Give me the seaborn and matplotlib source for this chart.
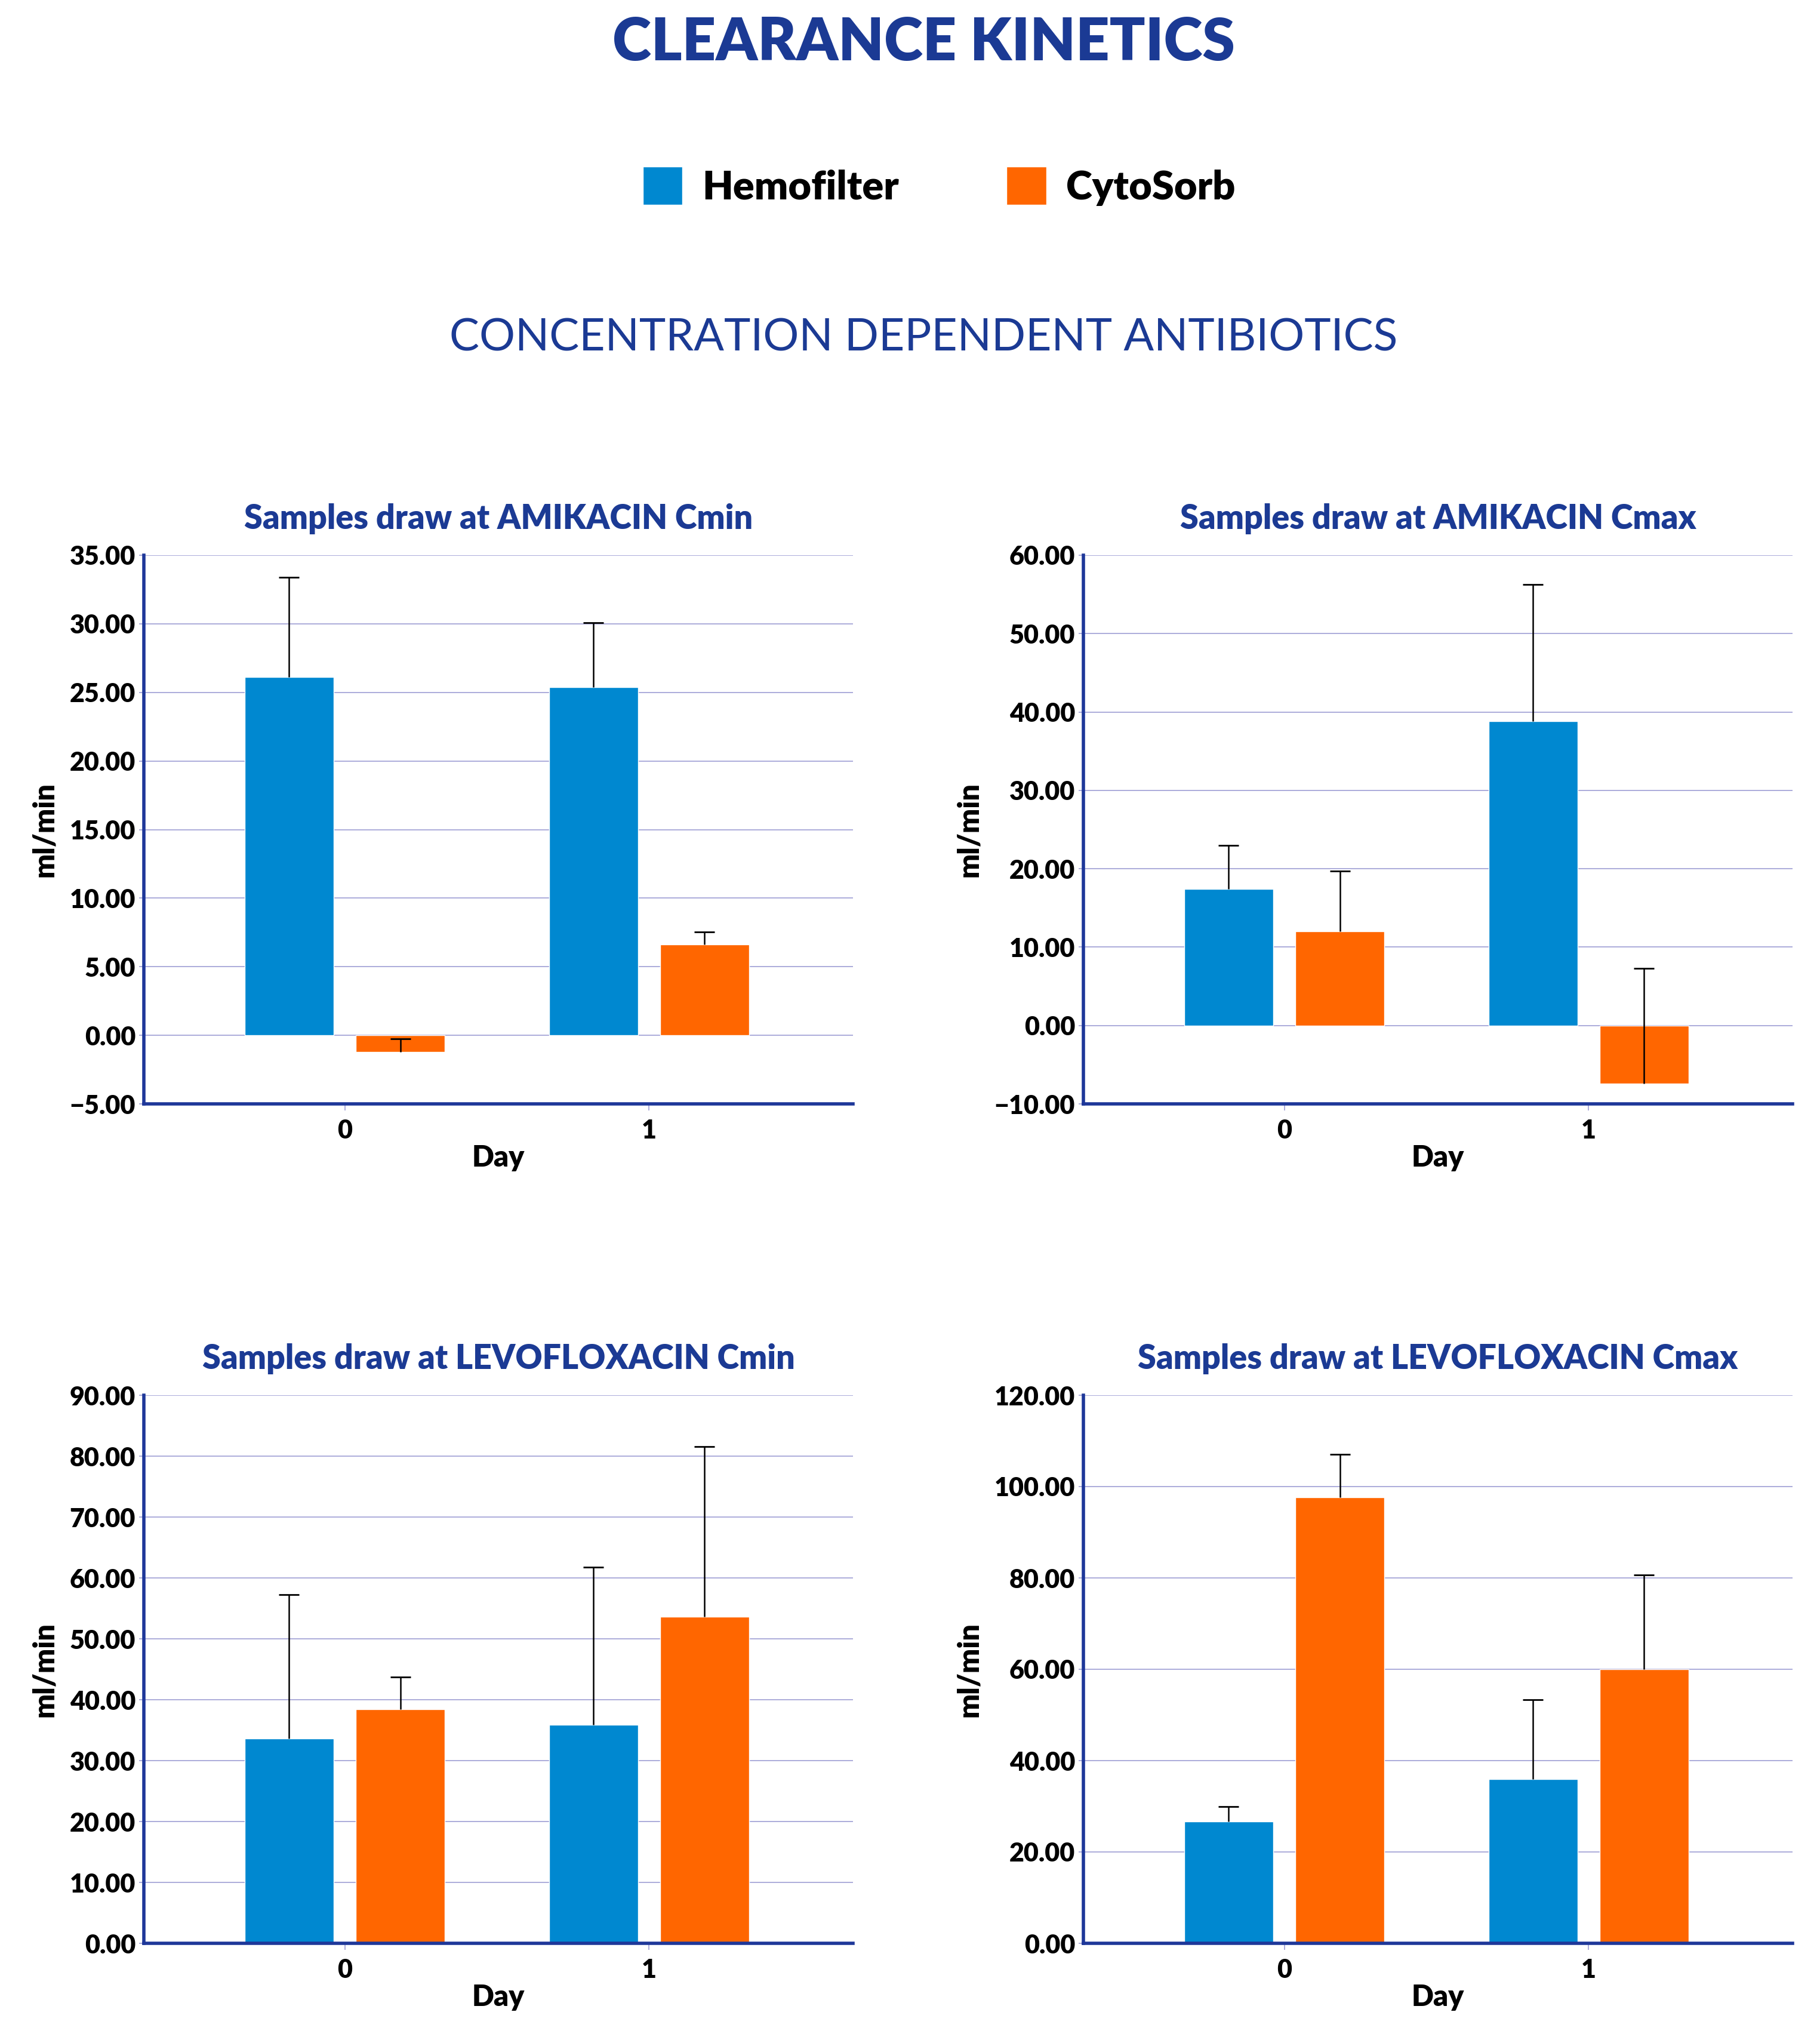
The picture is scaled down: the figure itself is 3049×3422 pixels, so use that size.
import numpy as np
import pandas as pd
import seaborn as sns
import matplotlib.pyplot as plt

# ---- data ----
days = ["0", "1"]
devices = ["Hemofilter", "CytoSorb"]

ami_cmin_hemo = [26.1, 25.4]
ami_cmin_hemo_err = [7.3, 4.7]
ami_cmin_cyto = [-1.2, 6.6]
ami_cmin_cyto_err = [0.95, 0.95]

ami_cmax_hemo = [17.4, 38.8]
ami_cmax_hemo_err = [5.6, 17.5]
ami_cmax_cyto = [12.0, -7.4]
ami_cmax_cyto_err = [7.7, 14.7]

levo_cmin_hemo = [33.6, 35.9]
levo_cmin_hemo_err = [23.7, 25.9]
levo_cmin_cyto = [38.4, 53.6]
levo_cmin_cyto_err = [5.3, 28.0]

levo_cmax_hemo = [26.7, 35.9]
levo_cmax_hemo_err = [3.3, 17.4]
levo_cmax_cyto = [97.7, 60.0]
levo_cmax_cyto_err = [9.3, 20.6]

panel_titles = ["Samples draw at AMIKACIN Cmin", "Samples draw at AMIKACIN Cmax",
                "Samples draw at LEVOFLOXACIN Cmin", "Samples draw at LEVOFLOXACIN Cmax"]
y_ranges = [(-5, 35, 5), (-10, 60, 10), (0, 90, 10), (0, 120, 20)]

BLUE_TXT = "#1B3A94"
SPINE = "#1E3799"
GRID = "#ACACDA"
palette = {"Hemofilter": "#0088D0", "CytoSorb": "#FF6600"}

sns.set_theme(style="white")
plt.rcParams["font.family"] = ["Lato", "DejaVu Sans"]
plt.rcParams["axes.labelcolor"] = "black"
plt.rcParams["text.color"] = "black"


def make_frame(hemo, cyto, hemo_err, cyto_err):
    return pd.DataFrame({
        "Day": days * 2,
        "Device": [devices[0]] * 2 + [devices[1]] * 2,
        "value": hemo + cyto,
        "err": hemo_err + cyto_err,
    })


frames = [
    make_frame(ami_cmin_hemo, ami_cmin_cyto, ami_cmin_hemo_err, ami_cmin_cyto_err),
    make_frame(ami_cmax_hemo, ami_cmax_cyto, ami_cmax_hemo_err, ami_cmax_cyto_err),
    make_frame(levo_cmin_hemo, levo_cmin_cyto, levo_cmin_hemo_err, levo_cmin_cyto_err),
    make_frame(levo_cmax_hemo, levo_cmax_cyto, levo_cmax_hemo_err, levo_cmax_cyto_err),
]

fig = plt.figure(figsize=(30.49, 34.22), dpi=100)
W, H = 3049, 3422
boxes = [(241, 930, 1429, 1849), (1815, 930, 3003, 1849),
         (241, 2337, 1429, 3255), (1815, 2337, 3003, 3255)]

handles, labels = None, None
for i, (df, title, (lo, hi, step), (x0, y0, x1, y1)) in enumerate(zip(frames, panel_titles, y_ranges, boxes)):
    ax = fig.add_axes([x0 / W, 1 - y1 / H, (x1 - x0) / W, (y1 - y0) / H])
    sns.barplot(data=df, x="Day", y="value", hue="Device", hue_order=devices,
                palette=palette, saturation=1, width=0.73, gap=0.2,
                errorbar=None, ax=ax, zorder=2)
    if handles is None:
        handles, labels = ax.get_legend_handles_labels()
    if ax.get_legend() is not None:
        ax.get_legend().remove()

    # one-sided (plus) error bars from the bar end, cap only at the top
    bars = [p for p in ax.patches if p.get_width() > 0.01 and abs(p.get_height()) > 1e-9]
    xs = np.array([p.get_x() + p.get_width() / 2 for p in bars])
    ends = np.array([p.get_y() + p.get_height() for p in bars])
    errs = np.array([df["err"].values[int(np.argmin(np.abs(df["value"].values - e)))] for e in ends])
    ax.errorbar(xs, ends, yerr=[np.zeros(len(errs)), errs], fmt="none",
                ecolor="black", elinewidth=1.8, capsize=0, zorder=3)
    ax.plot(xs, ends + errs, ls="none", marker="_", markersize=25, mew=2.0,
            color="black", zorder=3)

    ax.set_xlim(-0.66, 1.67)
    ax.set_ylim(lo, hi)
    ticks = np.arange(lo, hi + step / 2, step)
    ax.set_yticks(ticks)
    ax.set_yticklabels([f"{v:.2f}".replace("-", "\u2212") for v in ticks])
    ax.yaxis.grid(True, color=GRID, lw=1.4, zorder=0)
    ax.set_axisbelow(True)
    for s in ["top", "right"]:
        ax.spines[s].set_visible(False)
    for s in ["left", "bottom"]:
        ax.spines[s].set_color(SPINE)
        ax.spines[s].set_linewidth(4)
    ax.spines["bottom"].set_zorder(4)
    ax.tick_params(axis="y", length=6, width=1.4, color=GRID, pad=4,
                   labelsize=31, labelcolor="black", left=True)
    ax.tick_params(axis="x", length=8, width=1.4, color=GRID, pad=10,
                   labelsize=31, labelcolor="black", bottom=True)
    for t in ax.get_xticklabels() + ax.get_yticklabels():
        t.set_fontweight("heavy")
    ax.set_xlabel("Day", fontsize=35, fontweight="heavy", color="black", labelpad=2)
    ax.set_ylabel("ml/min", fontsize=35, fontweight="heavy", color="black", labelpad=14)
    ax.set_title(title, fontsize=40, fontweight="heavy", color=BLUE_TXT, pad=32)

fig.text(0.5076, 1 - 72 / H, "CLEARANCE KINETICS", ha="center", va="center",
         fontsize=71, fontweight="heavy", color=BLUE_TXT)
fig.text(0.5076, 1 - 566 / H, "CONCENTRATION DEPENDENT ANTIBIOTICS", ha="center",
         va="center", fontsize=54, color=BLUE_TXT)
leg = fig.legend(handles, labels, loc="center", bbox_to_anchor=(0.516, 1 - 312 / H), ncol=2,
                 frameon=False, prop={"size": 48, "weight": "heavy"},
                 handlelength=1.0, handleheight=1.1, handletextpad=0.5, columnspacing=2.7)
for t in leg.get_texts():
    t.set_color("black")

fig.savefig("out.png", dpi=100, facecolor="white")
